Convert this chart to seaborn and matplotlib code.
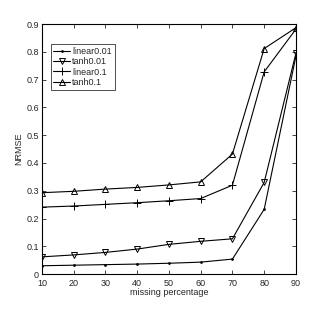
import pandas as pd
import seaborn as sns
import matplotlib.pyplot as plt

missing = [10, 20, 30, 40, 50, 60, 70, 80, 90]
linear001 = [0.030, 0.032, 0.034, 0.036, 0.039, 0.043, 0.054, 0.233, 0.785]
tanh001 = [0.062, 0.069, 0.078, 0.090, 0.107, 0.118, 0.127, 0.330, 0.795]
linear01 = [0.241, 0.245, 0.251, 0.257, 0.264, 0.272, 0.320, 0.728, 0.882]
tanh01 = [0.293, 0.298, 0.306, 0.312, 0.321, 0.332, 0.432, 0.812, 0.887]
names = ['linear0.01', 'tanh0.01', 'linear0.1', 'tanh0.1']

df = pd.DataFrame({'missing': missing * 4,
                   'NRMSE': linear001 + tanh001 + linear01 + tanh01,
                   'method': [n for n in names for _ in missing]})

sns.set_style('white')
plt.rcParams['font.family'] = ['Liberation Sans', 'DejaVu Sans']
fig = plt.figure(figsize=(3.27, 3.09), dpi=100)
ax = fig.add_axes([0.128, 0.113, 0.777, 0.809])

markers = {'linear0.01': '.', 'tanh0.01': 'v', 'linear0.1': '+', 'tanh0.1': '^'}
sizes = {'linear0.01': 2.5, 'tanh0.01': 5, 'linear0.1': 5.5, 'tanh0.1': 5}
for n in names:
    sub = df[df['method'] == n]
    sns.lineplot(data=sub, x='missing', y='NRMSE', ax=ax, color='black',
                 linewidth=0.8, marker=markers[n], markersize=sizes[n],
                 markerfacecolor='none' if n.startswith('tanh') else 'black',
                 markeredgecolor='black', markeredgewidth=0.7, label=n)

ax.set_xlim(10, 90)
ax.set_ylim(0, 0.9)
ax.set_xticks(missing)
ax.set_yticks([0, 0.1, 0.2, 0.3, 0.4, 0.5, 0.6, 0.7, 0.8, 0.9])
ax.set_yticklabels(['0', '0.1', '0.2', '0.3', '0.4', '0.5', '0.6', '0.7', '0.8', '0.9'])
ax.tick_params(direction='in', length=3, width=0.6, labelsize=6.5, top=True, right=True,
               bottom=True, left=True)
ax.tick_params(axis='x', pad=3.5)
ax.tick_params(axis='y', pad=2)
for s in ax.spines.values():
    s.set_linewidth(0.8)
    s.set_color('black')
ax.set_xlabel('missing percentage', fontsize=6.5, labelpad=0)
ax.set_ylabel('NRMSE', fontsize=6.5, labelpad=2)
leg = ax.legend(loc='upper left', bbox_to_anchor=(0.035, 0.92), fontsize=6.5,
                frameon=True, fancybox=False, edgecolor='black', borderpad=0.3,
                labelspacing=0.15, handlelength=1.8, handletextpad=0.3, borderaxespad=0)
leg.get_frame().set_linewidth(0.6)

fig.savefig('out.png', dpi=100)
